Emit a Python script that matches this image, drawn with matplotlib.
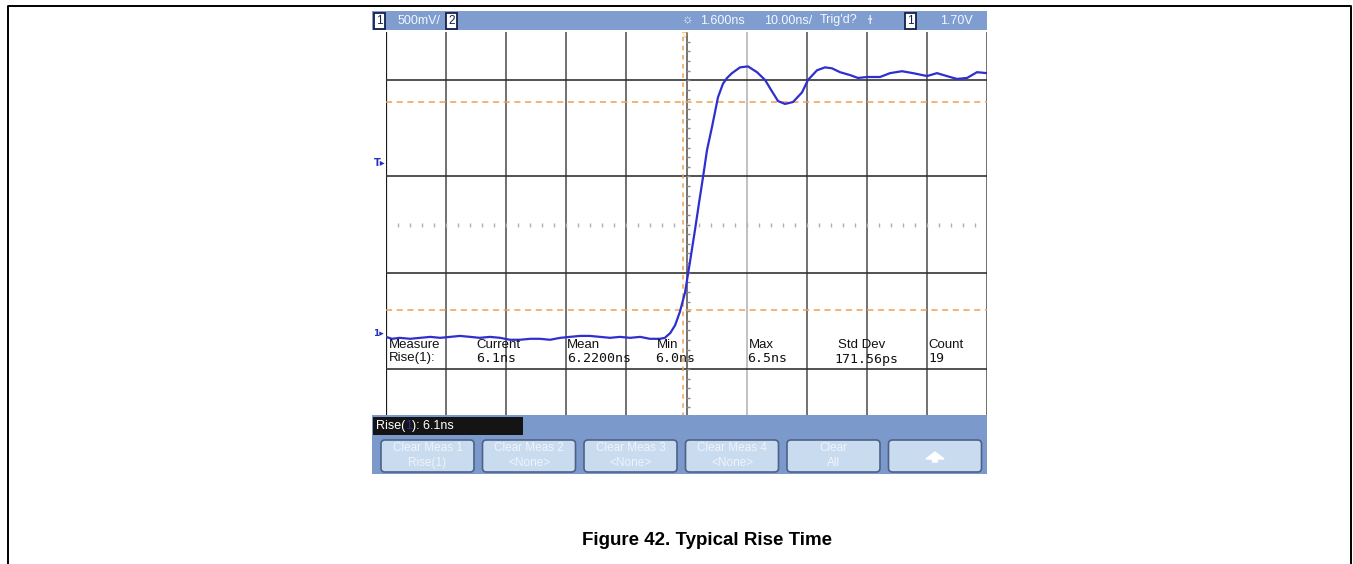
import numpy as np
import matplotlib
matplotlib.use("Agg")
import matplotlib.pyplot as plt
from matplotlib.patches import Rectangle, FancyBboxPatch, FancyArrow

# trace: time (ns) and level (V)
t_ns = [-50.0, -49.0, -47.7, -46.0, -44.3, -42.6, -41.0, -39.3, -37.7, -36.0,
        -34.4, -32.7, -31.0, -29.4, -27.7, -26.0, -24.4, -22.7, -21.0, -19.4,
        -17.7, -16.1, -14.4, -12.7, -11.1, -9.4, -7.7, -6.1, -4.4, -3.6,
        -2.7, -1.9, -1.1, -0.25, 0.58, 1.41, 2.08, 2.75, 3.41, 4.24,
        5.24, 6.07, 6.74, 7.57, 8.90, 10.23, 11.73, 13.06, 14.23, 15.23,
        16.39, 17.72, 19.22, 20.22, 21.72, 23.05, 24.21, 25.54, 27.21, 28.54,
        30.04, 32.20, 33.86, 35.86, 37.69, 40.02, 41.68, 43.85, 45.01, 46.68,
        48.34, 50.0]
v_volts = [-0.02, -0.04, -0.03, -0.04, -0.03, -0.02, -0.03, -0.02, -0.01, -0.02,
           -0.03, -0.02, -0.03, -0.05, -0.05, -0.04, -0.04, -0.05, -0.03, -0.02,
           -0.01, -0.01, -0.02, -0.03, -0.02, -0.03, -0.02, -0.04, -0.04, -0.03,
           0.02, 0.10, 0.24, 0.44, 0.76, 1.09, 1.37, 1.64, 1.92, 2.16,
           2.47, 2.61, 2.67, 2.72, 2.78, 2.79, 2.73, 2.65, 2.53, 2.43,
           2.40, 2.42, 2.52, 2.65, 2.75, 2.78, 2.77, 2.73, 2.70, 2.67,
           2.68, 2.68, 2.72, 2.74, 2.72, 2.69, 2.72, 2.68, 2.66, 2.67,
           2.73, 2.72]

# scope settings
volts_per_div = 0.5
ns_per_div = 10.0
ground_div = 1.705          # ground marker, divisions above screen bottom
cursor_levels = [0.26, 2.42]  # 10% / 90% cursors (V)
cursor_time = -0.6

meas_names = ["Current", "Mean", "Min", "Max", "Std Dev", "Count"]
meas_values = ["6.1ns", "6.2200ns", "6.0ns", "6.5ns", "171.56ps", "19"]
softkeys = [("Clear Meas 1", "Rise(1)"), ("Clear Meas 2", "<None>"),
            ("Clear Meas 3", "<None>"), ("Clear Meas 4", "<None>"),
            ("Clear", "All")]

W, H = 1353, 564
fig = plt.figure(figsize=(W / 100, H / 100), dpi=100)

# ---- scope screen -------------------------------------------------------
ax = fig.add_axes([386 / W, 1 - 417 / H, 601 / W, 385 / H])
ylo = -ground_div * volts_per_div
ax.set_xlim(-5 * ns_per_div, 5 * ns_per_div)
ax.set_ylim(ylo, ylo + 8 * volts_per_div)
ax.axis("off")

for k in range(11):
    x = -5 * ns_per_div + k * ns_per_div
    col = "#1a1a1a" if k == 0 else ("#b0b0b0" if k == 6 else "#4a4a4a")
    ax.axvline(x, color=col, lw=1.6 if k == 0 else 1.1, zorder=1)
for k in [1, 3, 5, 7]:
    ax.axhline(ylo + k * volts_per_div, color="#333333", lw=1.2, zorder=1)

# centre graticule ticks
xt = np.arange(-48, 50, 2.0)
ax.plot(xt, np.full(len(xt), ylo + 4 * volts_per_div), ls="none", marker="|",
        ms=2.5, color="#b0b0b0", zorder=1)
yt = np.arange(ylo + 0.1, ylo + 8 * volts_per_div, 0.1)
ax.plot(np.full(len(yt), 0.3), yt, ls="none", marker="_", ms=2.5,
        color="#8a8a8a", zorder=1)

for lev in cursor_levels:
    ax.axhline(lev, color="#f0a050", ls=(0, (4, 3)), lw=1.1, zorder=2)
ax.axvline(cursor_time, color="#f0a050", ls=(0, (3, 3)), lw=1.1, zorder=2)

ax.plot(t_ns, v_volts, color="#2f2fd0", lw=1.6, zorder=3)

# ---- overlay in pixel coordinates --------------------------------------
ov = fig.add_axes([0, 0, 1, 1], zorder=5)
ov.set_xlim(0, W)
ov.set_ylim(H, 0)
ov.axis("off")
ov.patch.set_alpha(0)

# page frame
ov.plot([8, 8, 1351, 1351], [H, 6, 6, H], color="black", lw=1.4)

# top status bar
ov.add_patch(Rectangle((372, 11), 615, 19, fc="#7f9dce", ec="none"))
for bx, lab in [(374, "1"), (446, "2"), (905, "1")]:
    ov.add_patch(Rectangle((bx, 13), 11, 16, fc="white", ec="#15204a", lw=1.3))
    ov.text(bx + 5.5, 21.5, lab, ha="center", va="center", fontsize=8.5,
            color="#15204a", family="Liberation Sans")
top_txt = [(398, "500mV/"), (682, "\u263c"), (700, "1.600ns"),
           (764, "10.00ns/"), (820, "Trig'd?"), (868, "\u026b"), (940, "1.70V")]
for x, s in top_txt:
    ov.text(x, 20.5, s, ha="left", va="center", fontsize=9,
            color="#f4f7ff", family="Liberation Sans")

# cursor marker at top
ov.text(685, 34, "\u25bd", ha="center", va="center", fontsize=6, color="#f0a050")

# left side markers
ov.text(374, 163, "T\u25b8", ha="left", va="center", fontsize=7,
        color="#2030c0", fontweight="bold")
ov.text(373, 334, "1\u25b8", ha="left", va="center", fontsize=6.5,
        color="#2030c0", fontweight="bold")

# measurement table
ov.text(389, 345, "Measure", ha="left", va="center", fontsize=9.5,
        family="Liberation Sans", color="#111111")
ov.text(389, 358, "Rise(1):", ha="left", va="center", fontsize=9.5,
        family="Liberation Sans", color="#111111")
name_x = [476, 567, 657, 749, 838, 928]
val_x = [476, 567, 655, 747, 834, 928]
for nx, vx, nm, vl in zip(name_x, val_x, meas_names, meas_values):
    ov.text(nx, 345, nm, ha="left", va="center", fontsize=9.5,
            family="Liberation Sans", color="#111111")
    ov.text(vx, 359, vl, ha="left", va="center", fontsize=9.5,
            family="DejaVu Sans Mono", color="#111111")

# bottom softkey bar
ov.add_patch(Rectangle((372, 415), 615, 59, fc="#7b99cb", ec="none"))
ov.add_patch(Rectangle((373, 417), 150, 18, fc="#141414", ec="none"))
ov.text(376, 426, "Rise(", ha="left", va="center", fontsize=9,
        color="white", family="Liberation Sans")
ov.text(408.5, 426, "1", ha="center", va="center", fontsize=9,
        color="#2a2a9a", family="Liberation Sans")
ov.text(412, 426, "): 6.1ns", ha="left", va="center", fontsize=9,
        color="white", family="Liberation Sans")

for i in range(6):
    bx = 381 + i * 101.5
    ov.add_patch(FancyBboxPatch((bx, 440), 93, 32,
                                boxstyle="round,pad=0,rounding_size=4",
                                fc="#c9dbef", ec="#4e6288", lw=1.2))
    if i < len(softkeys):
        l1, l2 = softkeys[i]
        ov.text(bx + 46.5, 448, l1, ha="center", va="center", fontsize=8.5,
                color="#eef4fc", family="Liberation Sans")
        ov.text(bx + 46.5, 463, l2, ha="center", va="center", fontsize=8.5,
                color="#eef4fc", family="Liberation Sans")
    else:
        ov.add_patch(FancyArrow(bx + 46.5, 462, 0, -10, width=5, head_width=18,
                                head_length=7, length_includes_head=True,
                                color="white"))

# caption
ov.text(707, 545, "Figure 42. Typical Rise Time", ha="center", va="baseline",
        fontsize=13.5, fontweight="bold", family="Liberation Sans")

fig.savefig("out.png", dpi=100)
